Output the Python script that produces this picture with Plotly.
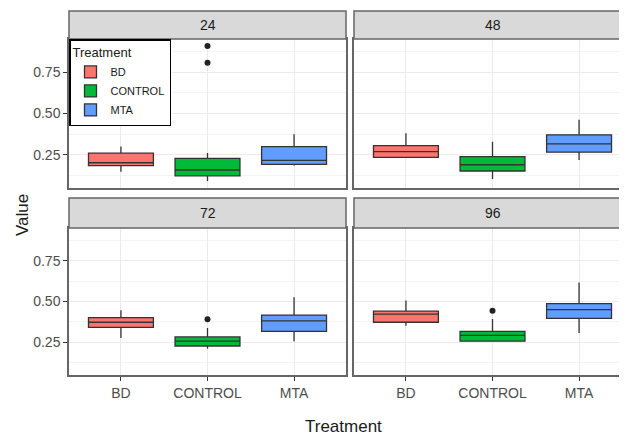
import plotly.graph_objects as go

# ---------------- data ----------------
TIMES = ["24", "48", "72", "96"]
TREATMENTS = ["BD", "CONTROL", "MTA"]
COLORS = ["#F8766D", "#00BA38", "#619CFF"]

# per time: values for [BD, CONTROL, MTA]
LOWER = [[0.146, 0.090, 0.185], [0.232, 0.102, 0.218], [0.276, 0.210, 0.256], [0.350, 0.256, 0.306]]
Q1 = [[0.183, 0.122, 0.191], [0.234, 0.151, 0.265], [0.340, 0.226, 0.316], [0.372, 0.256, 0.396]]
MEDIAN = [[0.201, 0.157, 0.216], [0.268, 0.189, 0.315], [0.372, 0.256, 0.380], [0.422, 0.292, 0.450]]
Q3 = [[0.259, 0.228, 0.299], [0.305, 0.238, 0.370], [0.400, 0.282, 0.416], [0.440, 0.316, 0.486]]
UPPER = [[0.299, 0.260, 0.374], [0.380, 0.329, 0.462], [0.446, 0.336, 0.526], [0.506, 0.392, 0.616]]
OUTLIER_TIME = ["24", "24", "72", "96"]
OUTLIER_TRT = ["CONTROL", "CONTROL", "CONTROL", "CONTROL"]
OUTLIER_VAL = [0.909, 0.807, 0.390, 0.442]

Y_TICKS = [0.25, 0.50, 0.75]
Y_TICKTEXT = ["0.25", "0.50", "0.75"]
Y_MINOR = [0.125, 0.375, 0.625, 0.875]

# ---------------- layout geometry (page pixels) ----------------
PAGE_W, PAGE_H = 627, 439
OFF = 8  # default body margin of the page
W, H = PAGE_W - OFF, PAGE_H - OFF
FONT = "Liberation Sans, Arial, sans-serif"
BORDER = "#666666"


def px_x(p):
    return (p - OFF) / W


def px_y(p):
    return 1 - (p - OFF) / H


panels = [  # (x0, x1, ytop, ybot) in page pixels
    (69, 346, 39, 188),
    (354, 627, 39, 188),
    (69, 346, 228, 375),
    (354, 627, 228, 375),
]
strips = [(11, 39), (11, 39), (198, 228), (198, 228)]
px_per_unit = (346 - 69) / 3.2
YRANGE = [0.048, 0.951]

fig = go.Figure()

for p, t in enumerate(TIMES):
    ax = "" if p == 0 else str(p + 1)
    for i, trt in enumerate(TREATMENTS):
        fig.add_trace(go.Box(
            x=[trt], q1=[Q1[p][i]], median=[MEDIAN[p][i]], q3=[Q3[p][i]],
            lowerfence=[LOWER[p][i]], upperfence=[UPPER[p][i]],
            name=trt, legendgroup=trt, showlegend=(p == 0),
            fillcolor=COLORS[i], line=dict(color="#333333", width=1.3),
            width=0.75, whiskerwidth=0, boxpoints=False,
            xaxis="x" + ax, yaxis="y" + ax, hoverinfo="skip",
        ))
    ox = [OUTLIER_TRT[k] for k in range(len(OUTLIER_VAL)) if OUTLIER_TIME[k] == t]
    oy = [OUTLIER_VAL[k] for k in range(len(OUTLIER_VAL)) if OUTLIER_TIME[k] == t]
    if oy:
        fig.add_trace(go.Scatter(
            x=ox, y=oy, mode="markers", showlegend=False,
            marker=dict(color="#222222", size=6),
            xaxis="x" + ax, yaxis="y" + ax, hoverinfo="skip",
        ))

layout = dict(
    width=W, height=H, margin=dict(l=0, r=0, t=0, b=0),
    paper_bgcolor="white", plot_bgcolor="white",
    boxmode="overlay", font=dict(family=FONT, color="#4D4D4D"),
    showlegend=True,
    legend=dict(
        x=px_x(69), y=px_y(39), xanchor="left", yanchor="top",
        bgcolor="white", bordercolor="black", borderwidth=1.5,
        title=dict(text="Treatment", font=dict(size=13, color="#1A1A1A")),
        font=dict(size=11, color="#1A1A1A"),
        tracegroupgap=0, itemwidth=30,
    ),
    shapes=[], annotations=[],
)

for p in range(4):
    x0, x1, yt, yb = panels[p]
    ax = "" if p == 0 else str(p + 1)
    left = p in (0, 2)
    bottom = p in (2, 3)
    xr = [-0.6, -0.6 + (x1 - x0) / px_per_unit]
    layout["xaxis" + ax] = dict(
        domain=[px_x(x0), px_x(x1)], anchor="y" + ax,
        type="category", categoryorder="array", categoryarray=TREATMENTS,
        range=xr, showgrid=True, gridcolor="#EBEBEB", gridwidth=1,
        showline=True, linecolor=BORDER, linewidth=1.5, mirror=True,
        showticklabels=bottom, ticks="outside" if bottom else "",
        ticklen=4, tickcolor="#333333",
        tickfont=dict(size=14, color="#4D4D4D", family=FONT),
        zeroline=False, fixedrange=True,
    )
    layout["yaxis" + ax] = dict(
        domain=[px_y(yb), px_y(yt)], anchor="x" + ax,
        range=YRANGE, tickvals=Y_TICKS, ticktext=Y_TICKTEXT,
        showgrid=True, gridcolor="#EBEBEB", gridwidth=1,
        minor=dict(tickvals=Y_MINOR, showgrid=True, gridcolor="#F4F4F4", gridwidth=0.6),
        showline=True, linecolor=BORDER, linewidth=1.5, mirror=left,
        showticklabels=left, ticks="outside" if left else "",
        ticklen=4, tickcolor="#333333",
        tickfont=dict(size=14, color="#4D4D4D", family=FONT),
        zeroline=False, fixedrange=True,
    )
    s0, s1 = strips[p]
    layout["shapes"].append(dict(
        type="rect", xref="paper", yref="paper",
        x0=px_x(x0), x1=px_x(x1) + (0.02 if x1 >= PAGE_W else 0),
        y0=px_y(s1), y1=px_y(s0),
        fillcolor="#D9D9D9", line=dict(color=BORDER, width=1.5), layer="above",
    ))
    cx = (x0 + x1) / 2 if x1 < PAGE_W else (x0 + 631) / 2
    layout["annotations"].append(dict(
        x=px_x(cx), y=px_y((s0 + s1) / 2), xref="paper", yref="paper",
        text=TIMES[p], showarrow=False,
        font=dict(size=14, color="#1A1A1A", family=FONT),
        xanchor="center", yanchor="middle",
    ))

layout["annotations"].append(dict(
    x=px_x(343), y=px_y(437), xref="paper", yref="paper", text="Treatment",
    showarrow=False, font=dict(size=17, color="#1A1A1A", family=FONT),
    xanchor="center", yanchor="bottom", borderpad=0,
))
layout["annotations"].append(dict(
    x=px_x(22), y=px_y(215), xref="paper", yref="paper", text="Value",
    showarrow=False, textangle=-90, font=dict(size=17, color="#1A1A1A", family=FONT),
    xanchor="center", yanchor="middle",
))

fig.update_layout(**layout)
fig.write_html("out.html")
